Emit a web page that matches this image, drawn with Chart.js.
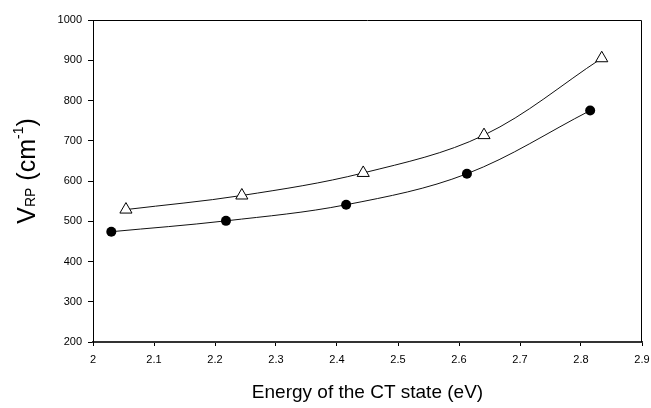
<!DOCTYPE html>
<html>
<head>
<meta charset="utf-8">
<script src="https://cdn.jsdelivr.net/npm/chart.js@4.4.1/dist/chart.umd.min.js"></script>
<style>
html,body{margin:0;padding:0;background:#fff;}
#wrap{width:651px;height:408px;position:relative;}
</style>
</head>
<body>
<div id="wrap"><canvas id="c" width="651" height="408"></canvas></div>
<script>
const xCircle = [2.03, 2.218, 2.415, 2.613, 2.815];
const yCircle = [474, 501, 541, 618, 775];
const xTriangle = [2.054, 2.244, 2.443, 2.641, 2.834];
const yTriangle = [529, 564, 620, 714, 905];
const xTicks = [2, 2.1, 2.2, 2.3, 2.4, 2.5, 2.6, 2.7, 2.8, 2.9];
const yTicks = [200, 300, 400, 500, 600, 700, 800, 900, 1000];
const xTitle = 'Energy of the CT state (eV)';

const FONT = '"Liberation Sans", Arial, sans-serif';

const framePlugin = {
  id: 'frame',
  afterDraw(chart) {
    const {ctx, chartArea: a} = chart;
    ctx.save();
    ctx.strokeStyle = '#000';
    ctx.lineWidth = 1;
    ctx.beginPath();
    ctx.moveTo(a.left + 0.5, a.top + 0.5);
    ctx.lineTo(a.right - 0.5, a.top + 0.5);
    ctx.lineTo(a.right - 0.5, a.bottom);
    ctx.stroke();
    // y title with subscript/superscript
    const cx = 35, cy = 171;
    ctx.translate(cx, cy);
    ctx.rotate(-Math.PI / 2);
    ctx.fillStyle = '#000';
    ctx.textBaseline = 'alphabetic';
    const parts = [
      {t: 'V', f: '25px ' + FONT, dy: 0},
      {t: 'RP', f: '14px ' + FONT, dy: 0},
      {t: ' (cm', f: '25px ' + FONT, dy: 0},
      {t: '-1', f: '14px ' + FONT, dy: -12},
      {t: ')', f: '25px ' + FONT, dy: 0}
    ];
    let total = 0;
    parts.forEach(p => { ctx.font = p.f; p.w = ctx.measureText(p.t).width; total += p.w; });
    let x = -total / 2;
    parts.forEach(p => { ctx.font = p.f; ctx.fillText(p.t, x, p.dy); x += p.w; });
    ctx.restore();
  }
};

new Chart(document.getElementById('c'), {
  type: 'scatter',
  data: {
    datasets: [
      {
        data: xTriangle.map((x, i) => ({x, y: yTriangle[i]})),
        showLine: true,
        tension: 0.35,
        borderColor: '#111',
        borderWidth: 1,
        pointStyle: 'triangle',
        pointRadius: 7,
        pointBackgroundColor: '#fff',
        pointBorderColor: '#000',
        pointBorderWidth: 1
      },
      {
        data: xCircle.map((x, i) => ({x, y: yCircle[i]})),
        showLine: true,
        tension: 0.35,
        borderColor: '#111',
        borderWidth: 1,
        pointStyle: 'circle',
        pointRadius: 5,
        pointBackgroundColor: '#000',
        pointBorderColor: '#000',
        pointBorderWidth: 0
      }
    ]
  },
  options: {
    responsive: false,
    animation: false,
    events: [],
    layout: {padding: {left: 0, right: 9, top: 20, bottom: 0}},
    plugins: {legend: {display: false}, tooltip: {enabled: false}},
    scales: {
      x: {
        type: 'linear', min: 2, max: 2.9,
        afterBuildTicks: s => { s.ticks = xTicks.map(v => ({value: v})); },
        afterFit: s => { s.height = 66; s.paddingLeft = 0; s.paddingRight = 0; },
        grid: {drawOnChartArea: false, drawTicks: true, tickLength: 4, color: '#000', lineWidth: 1},
        border: {display: true, color: '#333', width: 2},
        ticks: {
          color: '#000', padding: 7, maxRotation: 0,
          font: {family: FONT, size: 11},
          callback: v => String(Number(v.toFixed(1)))
        },
        title: {display: true, text: xTitle, color: '#000', font: {family: FONT, size: 19, lineHeight: 1.1}, padding: {top: 0, bottom: 5}}
      },
      y: {
        type: 'linear', min: 200, max: 1000,
        afterBuildTicks: s => { s.ticks = yTicks.map(v => ({value: v})); },
        afterFit: s => { s.width = 93; s.paddingTop = 0; s.paddingBottom = 0; },
        grid: {drawOnChartArea: false, drawTicks: true, tickLength: 5, color: '#000', lineWidth: 1},
        border: {display: true, color: '#000', width: 1},
        ticks: {color: '#000', padding: 6, font: {family: FONT, size: 11}, callback: v => String(v)}
      }
    }
  },
  plugins: [framePlugin]
});
</script>
</body>
</html>
